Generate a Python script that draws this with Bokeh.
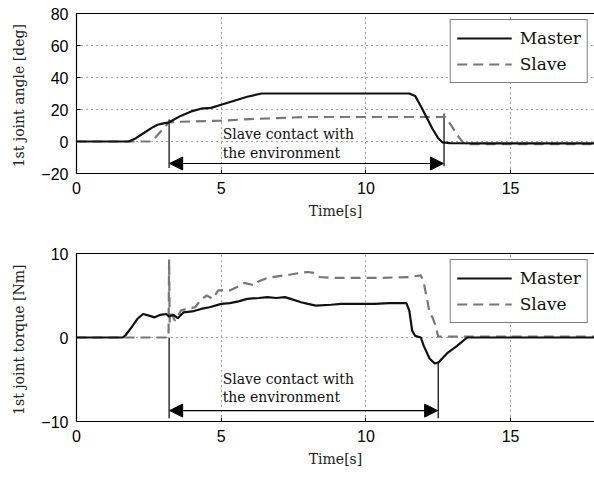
from bokeh.plotting import figure
from bokeh.layouts import column
from bokeh.models import (Arrow, NormalHead, Label, LinearAxis, FixedTicker, Legend, LegendItem, Range1d)
from bokeh.embed import file_html
from bokeh.resources import INLINE

# ---------------- data ----------------
t_ang_master = [0, 1.8, 2.0, 2.3, 2.6, 2.8, 3.0, 3.2, 3.6, 4.0, 4.3, 4.65, 5.0, 5.45, 5.9, 6.4,
                8.0, 10.0, 11.5, 11.7, 11.9, 12.1, 12.3, 12.5, 12.65, 12.9, 13.2, 14.0, 18.0]
ang_master = [0, 0, 1.5, 5, 8.5, 10.5, 11.3, 12, 16, 19, 20.5, 21, 23, 25.5, 28, 30,
              30, 30, 30, 28.5, 22, 15, 8, 2, -0.6, -1, -1.1, -1.2, -1.2]
t_ang_slave = [0, 2.6, 2.8, 3.0, 3.2, 3.5, 5.0, 6.0, 7.5, 8.0, 10.0, 12.75, 12.95, 13.2, 13.4, 18.0]
ang_slave = [0, 0, 4, 8, 12, 12.3, 13, 14, 15, 15.3, 15.3, 15.3, 10, 3, -1.6, -1.6]

t_trq_master = [0, 1.6, 1.7, 1.9, 2.1, 2.3, 2.5, 2.7, 2.9, 3.1, 3.2, 3.35, 3.5, 3.7, 4.0, 4.3,
                4.6, 5.0, 5.3, 5.6, 5.9, 6.3, 6.6, 6.9, 7.2, 7.4, 7.76, 8.0, 8.27, 8.8, 9.14,
                9.8, 10.3, 10.8, 11.4, 11.5, 11.6, 11.7, 11.9, 12.0, 12.2, 12.38, 12.5, 12.8,
                13.15, 13.5, 18.0]
trq_master = [0, 0, 0.3, 1.2, 2.2, 2.8, 2.6, 2.4, 2.7, 2.8, 2.5, 2.7, 2.3, 3.0, 3.1, 3.4,
              3.6, 4.0, 4.1, 4.3, 4.6, 4.7, 4.8, 4.7, 4.8, 4.6, 4.2, 4.0, 3.8, 3.9, 4.0,
              4.0, 4.0, 4.1, 4.1, 3.2, 0.8, 0.2, 0.0, -1.0, -2.5, -3.1, -3.0, -1.9,
              -1.0, 0.0, 0.0]
t_trq_slave = [0, 3.18, 3.2, 3.22, 3.3, 3.4, 3.5, 3.6, 3.9, 4.1, 4.3, 4.5, 4.7, 4.9, 5.3, 5.6,
               5.8, 6.15, 6.3, 6.6, 7.0, 7.4, 7.76, 8.0, 8.2, 8.4, 8.8, 9.5, 10.5, 11.5, 11.9,
               12.0, 12.1, 12.2, 12.3, 12.4, 12.5, 13.0, 18.0]
trq_slave = [0, 0, 9.3, 1.8, 2.8, 2.0, 2.5, 3.2, 3.5, 3.6, 4.5, 5.0, 4.6, 5.6, 5.6, 6.1,
             6.5, 6.2, 6.7, 7.1, 7.3, 7.5, 7.7, 7.8, 7.7, 7.2, 7.1, 7.1, 7.1, 7.2, 7.4,
             6.5, 4.8, 3.0, 2.4, 1.5, 0.1, 0.1, 0.1]

x_ticks = [0, 5, 10, 15]
y_ticks_angle = [-20, 0, 20, 40, 60, 80]
y_ticks_torque = [-10, 0, 10]

# annotation positions (data units)
contact_start = 3.2
contact_end_angle = 12.7
contact_end_torque = 12.5

TICK_FONT = "Liberation Sans"
SERIF = "DejaVu Serif"
MASTER_COLOR = "#111111"
SLAVE_COLOR = "#777777"


def style(p, yticks, ylabel):
    p.outline_line_color = None
    p.xaxis.ticker = FixedTicker(ticks=x_ticks)
    p.yaxis.ticker = FixedTicker(ticks=yticks)
    for ax in (p.xaxis[0], p.yaxis[0]):
        ax.major_tick_in = 4
        ax.major_tick_out = 0
        ax.minor_tick_line_color = None
        ax.axis_line_color = "black"
        ax.axis_line_width = 1.2
        ax.major_label_text_font = TICK_FONT
        ax.major_label_text_font_size = "16px"
        ax.major_label_text_color = "black"
        ax.axis_label_text_font = SERIF
        ax.axis_label_text_font_size = "14px"
        ax.axis_label_text_font_style = "normal"
        ax.axis_label_text_color = "#222222"
        ax.major_label_standoff = 8
    p.xaxis.axis_label = "Time[s]"
    p.yaxis.axis_label = ylabel
    p.xaxis.axis_label_standoff = 6
    p.yaxis.axis_label_standoff = 11
    top = LinearAxis(ticker=FixedTicker(ticks=[]), major_tick_in=0, major_tick_out=0,
                     minor_tick_line_color=None, axis_line_width=1.2, major_label_standoff=0)
    p.add_layout(top, "above")
    for g in (p.xgrid[0], p.ygrid[0]):
        g.grid_line_color = "#444444"
        g.grid_line_dash = "1 4"
        g.grid_line_width = 1
    p.xgrid.ticker = FixedTicker(ticks=x_ticks)
    p.ygrid.ticker = FixedTicker(ticks=yticks)


def add_legend(p, rm, rs):
    leg = Legend(items=[LegendItem(label="Master", renderers=[rm]),
                        LegendItem(label="Slave", renderers=[rs])],
                 location="top_right")
    leg.label_text_font = SERIF
    leg.label_text_font_size = "17px"
    leg.label_text_color = "#111111"
    leg.border_line_color = "black"
    leg.border_line_width = 1.2
    leg.glyph_width = 55
    leg.glyph_height = 24
    leg.label_height = 24
    leg.label_standoff = 8
    leg.padding = 6
    leg.spacing = 2
    leg.margin = 6
    leg.background_fill_alpha = 1
    p.add_layout(leg)


def add_annotation(p, x0, x1, y_arrow, seg1, seg2, txt_y1, txt_y2):
    p.segment(x0=[x0], y0=[seg1[0]], x1=[x0], y1=[seg1[1]], line_color="black", line_width=1.2)
    p.segment(x0=[x1], y0=[seg2[0]], x1=[x1], y1=[seg2[1]], line_color="black", line_width=1.2)
    p.add_layout(Arrow(start=NormalHead(size=13, fill_color="black", line_color="black"),
                       end=NormalHead(size=13, fill_color="black", line_color="black"),
                       x_start=x0 + 0.02, y_start=y_arrow, x_end=x1 - 0.02, y_end=y_arrow,
                       line_color="black", line_width=1.2))
    for txt, yy in (("Slave contact with", txt_y1), ("the environment", txt_y2)):
        p.add_layout(Label(x=5.05, y=yy, text=txt, text_font=SERIF, text_font_size="14px",
                           text_baseline="middle", text_color="#111111"))


# ---------------- top figure ----------------
p1 = figure(width=594, height=230, x_range=Range1d(0, 17.9), y_range=Range1d(-20, 80),
            output_backend="svg", toolbar_location=None,
            min_border_left=76, min_border_right=0, min_border_top=13, min_border_bottom=57)
style(p1, y_ticks_angle, "1st joint angle  [deg]")
add_annotation(p1, contact_start, contact_end_angle, -13.75, (13.75, -16.5), (17.5, -15.5), 5.0, -6.9)
rs1 = p1.line(t_ang_slave, ang_slave, line_color=SLAVE_COLOR, line_width=2.2, line_dash="10 6")
rm1 = p1.line(t_ang_master, ang_master, line_color=MASTER_COLOR, line_width=2.2)
add_legend(p1, rm1, rs1)

# ---------------- bottom figure ----------------
p2 = figure(width=594, height=247, x_range=Range1d(0, 17.9), y_range=Range1d(-10, 10),
            output_backend="svg", toolbar_location=None,
            min_border_left=76, min_border_right=0, min_border_top=23, min_border_bottom=56)
style(p2, y_ticks_torque, "1st joint torque  [Nm]")
add_annotation(p2, contact_start, contact_end_torque, -8.7, (0, -9.6), (-2.8, -9.6), -4.9, -7.1)
rs2 = p2.line(t_trq_slave, trq_slave, line_color=SLAVE_COLOR, line_width=2.2, line_dash="10 6")
rm2 = p2.line(t_trq_master, trq_master, line_color=MASTER_COLOR, line_width=2.2)
add_legend(p2, rm2, rs2)

layout = column(p1, p2, spacing=0)
open("out.html", "w").write(file_html(layout, INLINE))
